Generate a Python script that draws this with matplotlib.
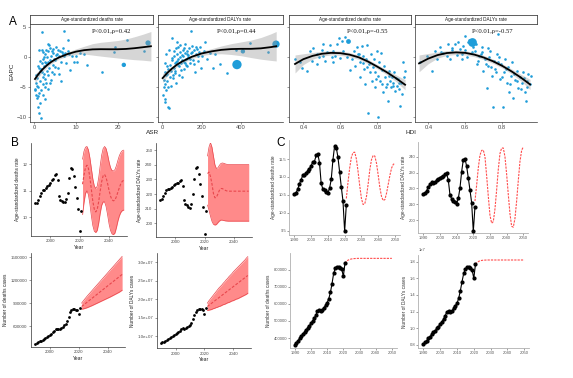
import matplotlib
matplotlib.use("Agg")
import matplotlib.pyplot as plt
import numpy as np

W, H = 573, 378
plt.rcParams["font.family"] = ["Liberation Sans", "DejaVu Sans"]

# ---------------- panel A: EAPC vs ASR / HDI ----------------
a1_asr = [0.2, 0.3, 0.4, 0.5, 0.6, 0.7, 0.8, 0.9, 1.0, 1.1, 1.2, 1.3, 1.4, 1.5, 1.6, 0.7, 0.8, 1.1, 0.5, 1.8,
          1.7, 2.0, 2.2, 2.5, 2.1, 2.4, 2.7, 1.9, 2.3, 2.8, 2.0, 2.6, 2.9, 1.8, 2.2, 3.0, 2.5, 2.9, 1.9, 2.6,
          3.2, 3.4, 3.6, 3.8, 4.0, 3.3, 3.5, 4.2, 4.4, 4.6, 3.9, 4.8, 4.1, 3.1, 4.5, 3.7, 4.9, 4.3, 3.2, 4.7,
          5.1, 5.4, 5.6, 5.8, 6.0, 6.2, 6.5, 5.3, 6.8, 7.0, 7.1, 7.6, 8.2, 5.9, 6.4, 7.2, 5.2, 6.7, 7.5, 8.0,
          8.7, 9.0, 9.5, 10.3, 11.0, 12.7, 16.2, 19.1, 19.4, 22.2, 26.3, 10.0, 8.4, 12.0, 1.2, 1.4, 0.9, 1.6, 2.3, 3.4]
a1_eapc = [-5.5, -5.3, -4.2, -6.2, -3.5, -6.7, -8.3, -6.5, -5.0, -9.3, -6.0, -7.6, -3.9, -2.2, -10.1, -4.8, -2.8, -1.8, -3.0, 4.2,
           -5.5, -4.5, -6.3, -5.0, -3.2, -2.8, -3.6, -2.5, -1.5, -1.0, -0.3, 0.5, 1.2, 1.3, 0.9, -2.2, -7.0, -4.2, -1.0, -0.8,
           -3.0, -5.3, -1.8, -0.5, 0.3, 1.0, 2.0, -2.5, -1.2, 0.8, 1.6, -0.2, -3.8, 0.0, 1.4, -4.3, -1.6, 1.1, -0.8, -2.8,
           -0.5, 0.6, 1.2, -1.7, 0.2, 1.0, -0.7, 0.4, 0.5, 1.6, 4.45, -1.0, 2.9, -2.8, -4.0, 0.3, 1.8, 0.9, 0.7, 1.1,
           -2.1, 0.2, -0.7, -0.8, 0.8, -1.2, -2.5, 0.83, 1.67, 2.9, 1.1, 0.3, 0.6, 0.5, 1.2, -0.6, -1.4, -2.0, 0.1, 2.2]
a1_big_asr = [21.5, 27.3]
a1_big_eapc = [-1.25, 2.4]
a1_big_size = [10, 14]
a1_fit_x = [0.2, 1, 2, 3, 4, 5, 6, 8, 10, 12, 14, 16, 18, 20, 22, 24, 26, 28]
a1_fit_y = [-3.6, -2.8, -2.0, -1.35, -0.8, -0.35, 0.0, 0.55, 0.95, 1.2, 1.33, 1.36, 1.35, 1.35, 1.4, 1.52, 1.68, 1.85]
a1_fit_se = [0.8, 0.55, 0.4, 0.35, 0.3, 0.3, 0.3, 0.35, 0.45, 0.65, 0.95, 1.15, 1.3, 1.45, 1.65, 1.9, 2.15, 2.45]

a2_asr = [5, 8, 10, 12, 14, 16, 18, 20, 22, 25, 28, 31, 36, 40, 15, 20, 26, 30, 12, 34,
          40, 45, 48, 50, 55, 58, 60, 62, 65, 68, 70, 72, 75, 78, 80, 82, 85, 88, 90, 95,
          98, 100, 105, 108, 110, 115, 118, 120, 125, 128, 130, 135, 140, 145, 148, 150, 155, 160, 165, 170,
          175, 180, 185, 190, 195, 200, 210, 218, 225, 240, 255, 270, 292, 331, 375, 446, 535, 52, 64, 74,
          92, 102, 112, 122, 132, 142, 152, 162, 172, 182, 45, 56, 66, 76, 86, 96, 106, 116, 126, 136]
a2_eapc = [-6.2, -5.0, -3.8, -4.5, -6.9, -2.5, -3.0, -5.5, -1.5, -4.0, -2.0, -8.3, -8.4, -3.2, -1.0, 0.5, -2.8, -5.0, -7.5, 1.2,
           -1.2, -2.2, 3.3, -0.5, -3.5, 1.0, -1.8, 0.2, -2.6, 1.5, -0.8, -4.2, 0.6, -1.3, 1.8, -0.2, -2.9, 0.9, 2.0, -1.0,
           -3.3, 0.4, 1.3, -0.7, -2.0, 0.8, 2.3, -0.3, 1.1, -1.5, 0.1, 1.6, -0.9, 0.7, 4.45, 1.9, -0.5, 1.2, -2.4, 0.5,
           1.4, -0.6, 0.9, 1.7, -1.8, 0.3, 1.0, 2.5, -0.2, 0.8, -1.7, 0.6, -1.1, -2.6, 1.3, 2.4, 0.83, -0.1, -1.0, 2.6,
           0.0, -0.4, 1.5, -1.2, 0.4, -0.3, 0.9, -1.1, 1.8, 0.2, -4.8, -3.0, -2.2, -0.6, -1.4, -2.1, 0.3, -0.9, 0.6, -0.1]
a2_big_asr = [379, 409, 577]
a2_big_eapc = [-1.2, 1.0, 2.2]
a2_big_size = [45, 10, 28]
a2_fit_x = [2, 25, 50, 75, 100, 150, 200, 250, 300, 350, 400, 450, 500, 550, 578]
a2_fit_y = [-3.45, -2.6, -1.85, -1.2, -0.7, 0.1, 0.65, 1.0, 1.25, 1.38, 1.42, 1.42, 1.5, 1.7, 1.85]
a2_fit_se = [0.75, 0.5, 0.4, 0.33, 0.3, 0.3, 0.35, 0.45, 0.65, 0.9, 1.15, 1.45, 1.8, 2.2, 2.45]

a3_hdi = [0.355, 0.391, 0.418, 0.436, 0.454, 0.472, 0.486, 0.499, 0.505, 0.517, 0.526, 0.544, 0.553, 0.562, 0.571, 0.584, 0.591, 0.607, 0.616, 0.625,
          0.652, 0.661, 0.674, 0.688, 0.697, 0.706, 0.706, 0.715, 0.721, 0.728, 0.733, 0.739, 0.746, 0.751, 0.757, 0.760, 0.766, 0.771, 0.778, 0.784,
          0.789, 0.796, 0.802, 0.805, 0.809, 0.814, 0.820, 0.825, 0.832, 0.836, 0.843, 0.850, 0.856, 0.861, 0.868, 0.874, 0.879, 0.886, 0.892, 0.897,
          0.904, 0.910, 0.915, 0.923, 0.928, 0.933, 0.941, 0.944, 0.950, 0.562, 0.598, 0.634, 0.679, 0.703, 0.724, 0.742, 0.787, 0.793, 0.823, 0.847,
          0.865, 0.883, 0.901, 0.919, 0.445, 0.382, 0.472, 0.508]
a3_eapc = [-0.28, -1.83, -2.33, 1.1, 1.5, 0.55, 0.0, 1.2, 2.2, -0.67, 0.83, 2.05, 0.0, 1.1, 0.28, 2.2, 3.2, 2.8, 1.1, 3.4,
           -2.1, -0.28, 1.1, 1.67, 0.55, -0.83, -3.3, 1.9, 0.28, -1.9, -4.4, -0.28, 2.1, -9.3, -1.1, -2.5, 0.55, -3.9, -1.67, -0.28,
           -5.0, 1.1, -3.05, -10.0, -0.83, -3.9, 0.67, -2.1, -5.8, -1.4, -3.3, -4.4, -7.2, -2.2, -3.9, -5.0, -3.2, -4.2, -2.5, -5.6,
           -4.7, -3.6, -5.3, -8.1, -4.2, -6.1, -0.83, -3.3, -2.3, -0.83, -0.1, 0.1, -1.4, 0.55, -1.0, -1.67, -2.5, -3.6, -4.4, -5.0,
           -3.05, -4.7, -3.4, -4.3, -0.56, -0.83, -1.1, 0.28]
a3_big_hdi = [0.643]
a3_big_eapc = [2.8]
a3_big_size = [12]
a3_fit_x = [0.355, 0.4, 0.45, 0.5, 0.55, 0.6, 0.65, 0.7, 0.75, 0.8, 0.85, 0.9, 0.95]
a3_fit_y = [-1.1, -0.3, 0.25, 0.6, 0.75, 0.7, 0.45, 0.0, -0.7, -1.55, -2.45, -3.45, -4.55]
a3_fit_se = [1.5, 0.9, 0.55, 0.4, 0.35, 0.35, 0.35, 0.35, 0.35, 0.35, 0.4, 0.55, 0.85]

a4_hdi = [0.355, 0.391, 0.418, 0.436, 0.445, 0.463, 0.481, 0.499, 0.508, 0.517, 0.526, 0.544, 0.553, 0.571, 0.580, 0.589, 0.598, 0.616, 0.652, 0.661,
          0.676, 0.688, 0.697, 0.706, 0.715, 0.724, 0.733, 0.742, 0.748, 0.755, 0.760, 0.769, 0.778, 0.787, 0.793, 0.802, 0.809, 0.816, 0.823, 0.831,
          0.838, 0.845, 0.854, 0.859, 0.868, 0.877, 0.886, 0.895, 0.904, 0.914, 0.923, 0.928, 0.935, 0.941, 0.950, 0.953, 0.607, 0.634, 0.670, 0.683,
          0.712, 0.730, 0.739, 0.766, 0.775, 0.784, 0.798, 0.820, 0.841, 0.863, 0.881, 0.899, 0.917, 0.932,
          0.47, 0.53, 0.56, 0.62, 0.64, 0.66, 0.69, 0.72, 0.58, 0.60]
a4_eapc = [-0.83, 0.28, -2.2, 1.1, -0.28, 1.67, 0.67, 0.28, 2.3, -0.28, 1.2, 2.2, 0.44, 1.4, -0.28, 1.9, 3.6, 2.5, 1.1, -1.1,
           0.28, 1.67, -2.2, -0.28, -5.1, -1.4, 1.1, -3.05, -8.2, -0.56, -1.9, 0.56, 3.9, -3.6, -1.1, -8.2, -2.5, -0.28, -4.2, -1.67,
           -5.8, -3.05, -0.83, -6.8, -3.8, -2.2, -5.1, -3.2, -4.2, -2.5, -5.8, -7.2, -3.9, -2.8, -4.4, -3.05, 0.0, 0.83, -0.56, 0.56,
           -1.1, 0.0, -1.67, -2.5, -0.83, 0.0, -3.3, -1.9, -4.4, -2.8, -3.9, -5.3, -3.4, -4.9,
           0.9, 1.5, 2.6, 2.9, 1.8, 2.2, 0.9, 1.5, 0.6, 1.3]
a4_big_hdi = [0.638]
a4_big_eapc = [2.6]
a4_big_size = [40]
a4_fit_x = [0.35, 0.4, 0.45, 0.5, 0.55, 0.6, 0.65, 0.7, 0.75, 0.8, 0.85, 0.9, 0.95]
a4_fit_y = [-1.0, -0.2, 0.38, 0.72, 0.83, 0.75, 0.45, -0.03, -0.65, -1.42, -2.33, -3.35, -4.5]
a4_fit_se = [1.4, 0.85, 0.5, 0.4, 0.35, 0.35, 0.35, 0.35, 0.35, 0.35, 0.4, 0.55, 0.85]

# ---------------- panels B / C: time series ----------------
years_obs = list(range(1990, 2022))
years_b_fc = list(range(2022, 2051))
years_c_fc = list(range(2021, 2051))

deaths_rate = [10.52, 10.55, 10.66, 10.80, 10.92, 11.04, 11.05, 11.10, 11.17, 11.23, 11.31, 11.42, 11.43, 11.60, 11.64, 11.40,
               10.82, 10.66, 10.63, 10.59, 10.56, 10.68, 10.93, 11.47, 11.86, 11.82, 11.55, 11.14, 10.72, 10.33, 9.48, 10.23]
dalys_rate = [216.3, 216.8, 218.5, 220.8, 222.5, 223.8, 223.4, 224.0, 225.0, 226.0, 226.8, 227.4, 227.6, 229.0, 229.4, 225.2,
              216.0, 213.4, 212.3, 211.2, 210.4, 213.6, 220.2, 230.5, 238.0, 238.8, 234.0, 226.6, 219.0, 211.0, 192.8, 208.3]
deaths_cases = [361000, 372000, 385000, 398000, 410000, 423000, 435000, 446000, 459000, 472000, 486000, 500000, 516000, 535000,
                557000, 566000, 559000, 565000, 578000, 592000, 608000, 632000, 668000, 720000, 780000, 810000, 820000, 818000,
                814000, 805000, 762000, 840000]
dalys_cases_1e7 = [0.81, 0.83, 0.85, 0.88, 0.90, 0.93, 0.95, 0.97, 1.00, 1.02, 1.05, 1.08, 1.11, 1.15, 1.20, 1.21,
                   1.20, 1.21, 1.24, 1.27, 1.30, 1.36, 1.45, 1.56, 1.66, 1.71, 1.73, 1.73, 1.72, 1.70, 1.60, 1.77]

# B forecasts (2022-2050): mean, upper, lower
b_deaths_mid = [11.25, 11.6, 11.88, 11.97, 11.85, 11.5, 11.05, 10.6, 10.3, 10.2, 10.3, 10.6, 11.0, 11.35, 11.57,
                11.62, 11.5, 11.28, 11.02, 10.8, 10.66, 10.62, 10.65, 10.78, 10.95, 11.12, 11.27, 11.36, 11.4]
b_deaths_hi = [12.2, 12.5, 12.65, 12.68, 12.55, 12.25, 11.85, 11.45, 11.18, 11.09, 11.18, 11.5, 11.95, 12.35, 12.6,
               12.68, 12.6, 12.38, 12.1, 11.88, 11.77, 11.75, 11.8, 11.95, 12.15, 12.33, 12.45, 12.52, 12.54]
b_deaths_lo = [10.1, 10.55, 10.9, 11.0, 10.85, 10.5, 10.05, 9.68, 9.47, 9.42, 9.5, 9.78, 10.15, 10.45, 10.58,
               10.58, 10.4, 10.1, 9.75, 9.5, 9.37, 9.34, 9.4, 9.6, 9.85, 10.05, 10.18, 10.25, 10.27]
b_dalys_mid = [234, 235, 232, 227, 220.5, 217.5, 217.8, 220, 222.5, 223.8, 223.8, 223.2, 222.6, 222.2, 222.0,
               222.0, 222.0, 222.0, 222.0, 222.0, 222.0, 222.0, 222.0, 222.0, 222.0, 222.0, 222.0, 222.0, 222.0]
b_dalys_hi = [246, 252, 255, 252, 246, 240, 237.5, 237.8, 239.5, 240.8, 241.2, 241.0, 240.6, 240.3, 240.2,
              240.2, 240.2, 240.2, 240.2, 240.2, 240.2, 240.2, 240.2, 240.2, 240.2, 240.2, 240.2, 240.2, 240.2]
b_dalys_lo = [212.5, 209, 205, 201.5, 199.5, 198.9, 199.3, 200.5, 201.6, 202.3, 202.3, 202.0, 201.8, 201.7, 201.6,
              201.6, 201.6, 201.6, 201.6, 201.6, 201.6, 201.6, 201.6, 201.6, 201.6, 201.6, 201.6, 201.6, 201.6]
b_dcases_mid = [855000, 870000, 885000, 900000, 915000, 930000, 945000, 960000, 975000, 990000, 1005000, 1020000, 1035000,
                1050000, 1065000, 1080000, 1095000, 1110000, 1125000, 1140000, 1155000, 1170000, 1185000, 1200000,
                1215000, 1230000, 1245000, 1260000, 1275000]
b_dcases_hi = [900000, 925000, 949000, 972000, 995000, 1016500, 1038000, 1059500, 1081000, 1102500, 1124000, 1145500,
               1167000, 1188500, 1210000, 1231500, 1253000, 1274500, 1296000, 1317500, 1339000, 1360500, 1382000,
               1403500, 1425000, 1446500, 1468000, 1489500, 1511000]
b_dcases_lo = [820000, 823000, 828000, 834000, 841000, 849000, 857000, 865000, 874000, 883000, 892000, 901000, 910000,
               919000, 928000, 937000, 946000, 955000, 964000, 973000, 982000, 992000, 1002000, 1012000, 1022000,
               1032000, 1042000, 1055000, 1068000]
b_ycases_mid = [1.80, 1.83, 1.86, 1.89, 1.92, 1.95, 1.98, 2.01, 2.04, 2.07, 2.10, 2.13, 2.16, 2.19, 2.22,
                2.25, 2.28, 2.31, 2.34, 2.37, 2.40, 2.43, 2.46, 2.49, 2.52, 2.55, 2.58, 2.61, 2.64]
b_ycases_hi = [1.89, 1.95, 2.00, 2.05, 2.10, 2.15, 2.20, 2.25, 2.30, 2.34, 2.38, 2.43, 2.47, 2.52, 2.56,
               2.61, 2.65, 2.69, 2.74, 2.78, 2.82, 2.86, 2.90, 2.94, 2.98, 3.02, 3.06, 3.11, 3.15]
b_ycases_lo = [1.69, 1.70, 1.71, 1.72, 1.74, 1.75, 1.77, 1.78, 1.80, 1.81, 1.83, 1.85, 1.86, 1.88, 1.90,
               1.91, 1.93, 1.95, 1.96, 1.98, 2.00, 2.01, 2.03, 2.05, 2.07, 2.09, 2.11, 2.13, 2.16]

# C forecasts (2021-2050)
c_deaths_fc = [10.40, 10.85, 11.25, 11.55, 11.68, 11.69, 11.50, 11.15, 10.75, 10.40, 10.23, 10.25, 10.45, 10.80, 11.20,
               11.48, 11.60, 11.58, 11.38, 11.05, 10.70, 10.45, 10.34, 10.37, 10.55, 10.80, 11.05, 11.25, 11.35, 11.38]
c_dalys_fc = [212, 222, 233, 241, 244, 244.2, 240, 228, 215, 203, 198, 199, 207, 219, 232,
              242, 245.5, 245.5, 240, 229, 216, 204, 196, 195.5, 201, 212, 225, 237, 244, 246.3]
c_dcases_fc = [840000, 852000, 858000, 862000, 864500, 866000, 867000, 867500, 868000, 868000, 868000, 868000, 868000,
               868000, 868000, 868000, 868000, 868000, 868000, 868000, 868000, 868000, 868000, 868000, 868000,
               868000, 868000, 868000, 868000, 868000]
c_ycases_fc_1e7 = [1.77, 1.79, 1.805, 1.812, 1.816, 1.818, 1.819, 1.82, 1.82, 1.82, 1.82, 1.82, 1.82, 1.82, 1.82,
                   1.82, 1.82, 1.82, 1.82, 1.82, 1.82, 1.82, 1.82, 1.82, 1.82, 1.82, 1.82, 1.82, 1.82, 1.82]

BLUE = "#1f9dd9"
BAND_RED = "#ff8a8a"
EDGE_RED = "#e8474d"


def add_ax(fig, x0, y0, x1, y1):
    return fig.add_axes([x0 / W, 1 - y1 / H, (x1 - x0) / W, (y1 - y0) / H])


def gg_style(ax, size=3.2):
    for s in ("top", "right"):
        ax.spines[s].set_visible(False)
    for s in ("left", "bottom"):
        ax.spines[s].set_linewidth(0.5)
        ax.spines[s].set_color("#333333")
    ax.tick_params(labelsize=size, colors="#4d4d4d", length=1.5, width=0.4, pad=1)


def mpl_style(ax):
    for s in ("top", "right"):
        ax.spines[s].set_visible(False)
    for s in ("left", "bottom"):
        ax.spines[s].set_linewidth(0.6)
        ax.spines[s].set_color("#b0b0b0")
    ax.tick_params(labelsize=3.0, colors="#555555", length=1.2, width=0.4, pad=1)


def scatter_panel(fig, xs, strip, x, y, bx, by, bs, fx, fy, fse, xlim, xticks, xlabels, ptext, px, show_y):
    x0, x1 = xs
    ax = add_ax(fig, x0, 24, x1, 121.7)
    ax.scatter(x, y, s=3.5, color=BLUE, lw=0, zorder=1)
    ax.scatter(bx, by, s=bs, color=BLUE, lw=0, zorder=1)
    fy = np.asarray(fy)
    fse = np.asarray(fse)
    ax.fill_between(fx, fy - fse, fy + fse, color="#999999", alpha=0.4, lw=0, zorder=2)
    ax.plot(fx, fy, color="black", lw=1.3, zorder=3)
    ax.set_xlim(*xlim)
    ax.set_ylim(-10.7, 5.55)
    ax.set_xticks(xticks)
    ax.set_xticklabels(xlabels)
    ax.set_yticks([-10, -5, 0, 5])
    if not show_y:
        ax.set_yticklabels([])
    gg_style(ax, size=4.2)
    ax.text(px, 0.925, ptext, transform=ax.transAxes, ha="center", va="center",
            fontsize=4.8, family=["Liberation Serif", "DejaVu Serif"], color="#111111")
    sax = add_ax(fig, x0, 15, x1, 24)
    sax.set_xticks([])
    sax.set_yticks([])
    for s in sax.spines.values():
        s.set_linewidth(0.6)
        s.set_color("#444444")
    sax.text(0.5, 0.5, strip, ha="center", va="center", fontsize=3.3, color="#1a1a1a")
    return ax


def b_panel(fig, box, obs, mid, hi, lo, ylim, yticks, ylabels, ylabel):
    ax = add_ax(fig, *box)
    ax.fill_between(years_b_fc, lo, hi, color=BAND_RED, lw=0, zorder=1)
    ax.plot(years_b_fc, hi, color=EDGE_RED, lw=0.5, zorder=2)
    ax.plot(years_b_fc, lo, color=EDGE_RED, lw=0.5, zorder=2)
    ax.plot(years_b_fc, mid, color=EDGE_RED, lw=0.8, ls=(0, (2.5, 1.5)), zorder=3)
    ax.scatter(years_obs, obs, s=4, color="black", lw=0, zorder=4)
    ax.set_xlim(1987, 2052)
    ax.set_ylim(*ylim)
    ax.set_xticks([2000, 2020, 2040])
    ax.set_yticks(yticks)
    ax.set_yticklabels(ylabels)
    gg_style(ax)
    ax.set_xlabel("Year", fontsize=3.6, color="#222222", labelpad=1)
    ax.set_ylabel(ylabel, fontsize=3.4, color="#222222", labelpad=2)
    return ax


def c_panel(fig, box, obs, fc, ylim, yticks, ylabel):
    ax = add_ax(fig, *box)
    ax.plot(years_obs, obs, color="black", lw=0.8, marker="o", ms=2.0, zorder=3)
    ax.plot(years_c_fc, fc, color="#ff4d4d", lw=0.8, ls=(0, (2, 1)), zorder=2)
    ax.set_xlim(1987, 2053)
    ax.set_ylim(*ylim)
    ax.set_xticks([1990, 2000, 2010, 2020, 2030, 2040, 2050])
    ax.set_yticks(yticks)
    mpl_style(ax)
    ax.set_ylabel(ylabel, fontsize=3.4, color="#333333", labelpad=2)
    return ax


fig = plt.figure(figsize=(W / 100, H / 100), dpi=100)

scatter_panel(fig, (30, 153), "Age-standardized deaths rate", a1_asr, a1_eapc, a1_big_asr, a1_big_eapc, a1_big_size,
              a1_fit_x, a1_fit_y, a1_fit_se, (-1.0, 28.5), [0, 10, 20], ["0", "10", "20"],
              "P<0.01,\u03c1=0.42", 0.664, True)
scatter_panel(fig, (157.7, 282.7), "Age-standardized DALYs rate", a2_asr, a2_eapc, a2_big_asr, a2_big_eapc, a2_big_size,
              a2_fit_x, a2_fit_y, a2_fit_se, (-23, 611), [0, 200, 400], ["0", "200", "400"],
              "P<0.01,\u03c1=0.44", 0.632, False)
scatter_panel(fig, (289.3, 411), "Age-standardized deaths rate", a3_hdi, a3_eapc, a3_big_hdi, a3_big_eapc, a3_big_size,
              a3_fit_x, a3_fit_y, a3_fit_se, (0.324, 0.982), [0.4, 0.6, 0.8], ["0.4", "0.6", "0.8"],
              "P<0.01,\u03c1=-0.55", 0.641, False)
scatter_panel(fig, (415, 536.7), "Age-standardized DALYs rate", a4_hdi, a4_eapc, a4_big_hdi, a4_big_eapc, a4_big_size,
              a4_fit_x, a4_fit_y, a4_fit_se, (0.328, 0.986), [0.4, 0.6, 0.8], ["0.4", "0.6", "0.8"],
              "P<0.01,\u03c1=-0.57", 0.638, False)

fig.text(11.7 / W, 1 - 71.7 / H, "EAPC", rotation=90, ha="center", va="center", fontsize=4.6, color="#222222")
fig.text(153 / W, 1 - 132 / H, "ASR", ha="center", va="center", fontsize=4.6, color="#222222")
fig.text(411 / W, 1 - 132 / H, "HDI", ha="center", va="center", fontsize=4.6, color="#222222")
fig.text(12.7 / W, 1 - 21.7 / H, "A", ha="center", va="center", fontsize=8.5)
fig.text(15 / W, 1 - 143 / H, "B", ha="center", va="center", fontsize=8.5)
fig.text(281 / W, 1 - 143 / H, "C", ha="center", va="center", fontsize=8.5)

# panel B
b_panel(fig, (31, 143.3, 126.7, 235.7), deaths_rate, b_deaths_mid, b_deaths_hi, b_deaths_lo,
        (9.3, 12.8), [10, 11, 12], ["10", "11", "12"], "Age-standardized deaths rate")
b_panel(fig, (156, 143.3, 251.7, 236.7), dalys_rate, b_dalys_mid, b_dalys_hi, b_dalys_lo,
        (191, 254.6), [200, 210, 220, 230, 240, 250], ["200", "210", "220", "230", "240", "250"],
        "Age-standardized DALYs rate")
b_panel(fig, (31, 253.3, 125, 346.7), deaths_cases, b_dcases_mid, b_dcases_hi, b_dcases_lo,
        (329000, 1552000), [600000, 900000, 1200000, 1500000], ["600000", "900000", "1200000", "1500000"],
        "Number of deaths cases")
ycases = [v * 1e7 for v in dalys_cases_1e7]
b_panel(fig, (156.7, 253.3, 250.7, 348.3), ycases,
        [v * 1e7 for v in b_ycases_mid], [v * 1e7 for v in b_ycases_hi], [v * 1e7 for v in b_ycases_lo],
        (0.67e7, 3.24e7), [1.0e7, 1.5e7, 2.0e7, 2.5e7, 3.0e7],
        ["1.0e+07", "1.5e+07", "2.0e+07", "2.5e+07", "3.0e+07"], "Number of DALYs cases")

# panel C
c_panel(fig, (289.3, 140, 400, 235), deaths_rate, c_deaths_fc, (9.38, 12.03),
        [9.5, 10.0, 10.5, 11.0, 11.5], "Age-standardized deaths rate")
c_panel(fig, (418.3, 141.7, 528.3, 233.3), dalys_rate, c_dalys_fc, (191.6, 249.5),
        [200, 210, 220, 230, 240], "Age-standardized DALYs rate")
ax_c3 = c_panel(fig, (290, 253.3, 396.7, 348.3), deaths_cases, c_dcases_fc, (339500, 897800),
                [400000, 500000, 600000, 700000, 800000], "Number of deaths cases")
ax_c3.ticklabel_format(axis="y", style="plain")
ax_c4 = c_panel(fig, (418.3, 255, 529.3, 348.3), ycases, [v * 1e7 for v in c_ycases_fc_1e7], (0.76e7, 1.88e7),
                [0.8e7, 1.0e7, 1.2e7, 1.4e7, 1.6e7, 1.8e7], "Number of DALYs cases")
ax_c4.yaxis.get_offset_text().set_fontsize(3.0)
ax_c4.yaxis.get_offset_text().set_color("#555555")

fig.savefig("out.png", dpi=100)
